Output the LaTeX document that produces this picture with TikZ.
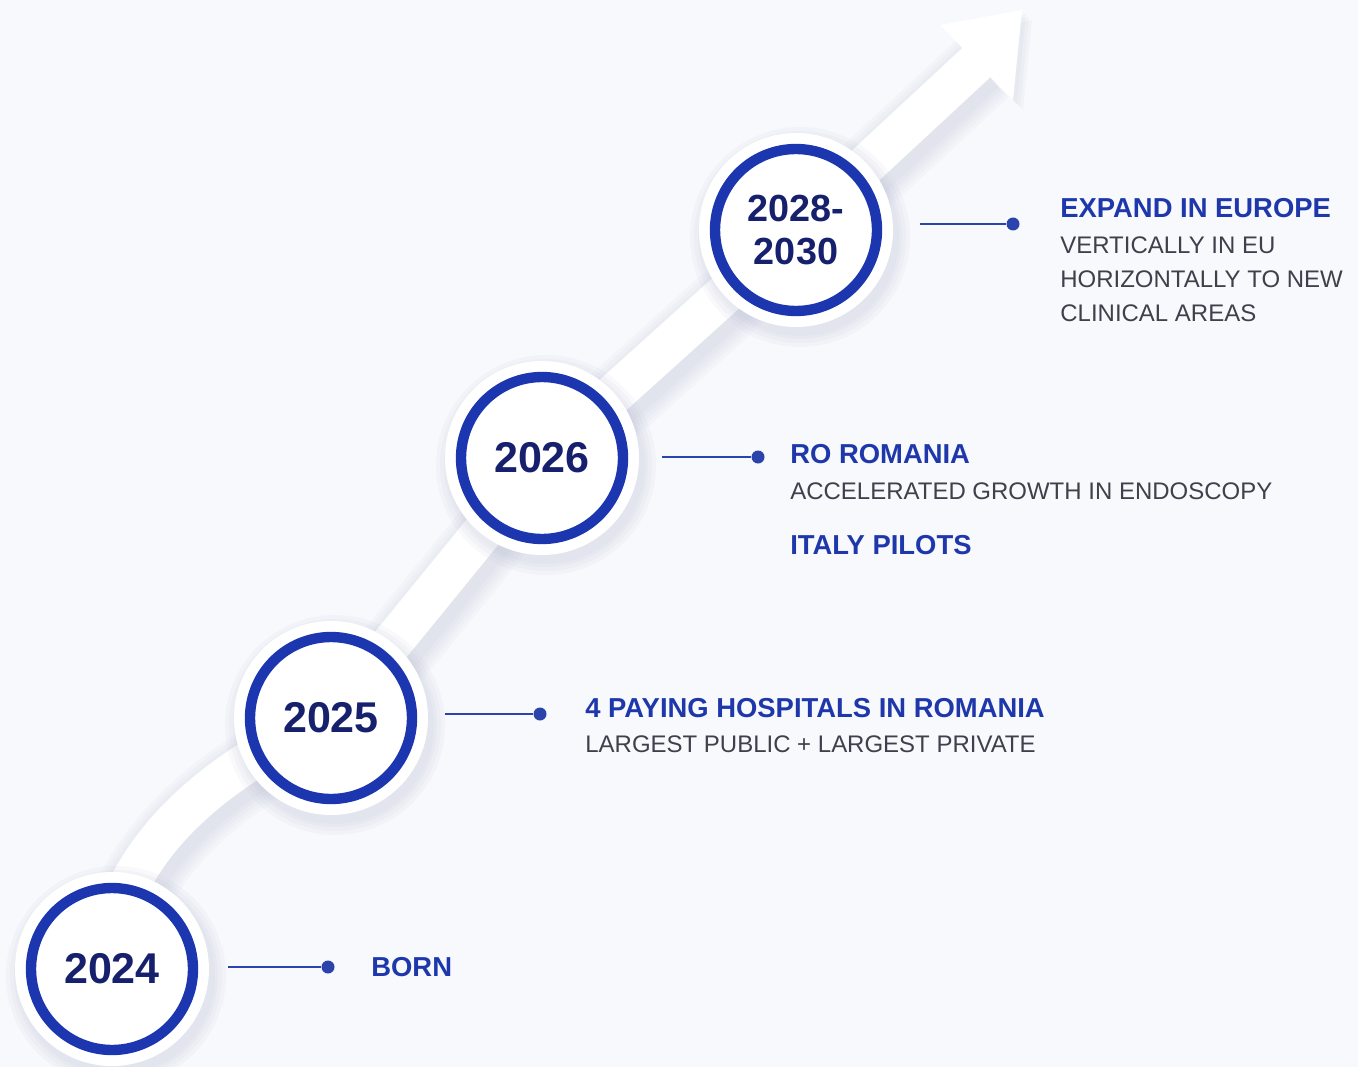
\documentclass[tikz,border=0pt]{standalone}
\usepackage{fontspec}
\setmainfont{Liberation Sans}
\usetikzlibrary{positioning,calc}

\definecolor{bgcol}{RGB}{248,249,252}
\definecolor{navy}{RGB}{22,32,108}
\definecolor{ringblue}{RGB}{28,54,176}
\definecolor{headblue}{RGB}{30,56,172}
\definecolor{linkblue}{RGB}{42,68,172}
\definecolor{bodygray}{RGB}{62,65,76}
\definecolor{shadowcol}{RGB}{170,178,205}

\tikzset{
  yearring/.style={circle,fill=white,draw=ringblue,line width=5.9pt,
    minimum size=3.24cm,inner sep=0pt,text=navy,align=center,
    font=\fontsize{24.5}{26}\selectfont\bfseries},
  pin/.style={circle,fill=linkblue,inner sep=0pt,minimum size=7.4pt},
  link/.style={linkblue,line width=1.2pt},
  head/.style={anchor=base west,inner sep=0pt,text=headblue,
    font=\fontsize{15.6}{18}\selectfont\bfseries},
  body/.style={anchor=base west,inner sep=0pt,text=bodygray,
    font=\fontsize{13.65}{16}\selectfont},
}

\begin{document}
\begin{tikzpicture}[x=0.02cm,y=-0.02cm]
\fill[bgcol] (0,0) rectangle (1358,1067);
\useasboundingbox (0,0) rectangle (1358,1067);
% growth arrow
\foreach \w in {44,40,36,32,28}
  \draw[shadowcol,opacity=0.06,line width=\w pt,line join=round,shift={(5,7)}]
    (122,900) .. controls (155,825) and (225,765) .. (331,718)
    -- (542,459) -- (796,230) -- (977,62);
\foreach \s in {10,7,4}
  \fill[shadowcol,opacity=0.07,shift={(\s,\s)}] (940,25) -- (1022,10) -- (1013,100) -- cycle;
\draw[white,line width=23pt,line join=round]
  (122,900) .. controls (155,825) and (225,765) .. (331,718)
  -- (542,459) -- (796,230) -- (977,62);
\fill[white] (940,25) -- (1022,10) -- (1013,100) -- cycle;
% discs
\foreach \cx/\cy in {112/969,331/718,542/458,796/230}{
  \foreach \r in {110,106,102,99}
    \fill[shadowcol,opacity=0.07] (\cx+4,\cy+7) circle (\r);
  \fill[white] (\cx,\cy) circle (97);
}
% years
\node[yearring] (c24) at (112,969) {2024};
\node[yearring] (c25) at (331,718) {2025};
\node[yearring] (c26) at (542,458) {2026};
\node[yearring,font=\fontsize{21.5}{24}\selectfont\bfseries] (c28) at (796,230) {2028-\\2030};
% pins
\node[pin] (d24) at (328,967) {};
\node[pin] (d25) at (540,714) {};
\node[pin] (d26) at (758,457) {};
\node[pin] (d28) at (1013,224) {};
\coordinate (s24) at (228,967);
\coordinate (s25) at (445,714);
\coordinate (s26) at (662,457);
\coordinate (s28) at (920,224);
\draw[link] (s24) -- (d24);
\draw[link] (s25) -- (d25);
\draw[link] (s26) -- (d26);
\draw[link] (s28) -- (d28);
% labels
\node[head] (h24) at (371,976) {BORN};
\node[head] (h25) at (585,717) {4 PAYING HOSPITALS IN ROMANIA};
\node[body] (b25) at ($(h25.base west)+(0,35.5)$) {LARGEST PUBLIC + LARGEST PRIVATE};
\node[head] (h26) at (790,463) {RO ROMANIA};
\node[body] (b26) at ($(h26.base west)+(0,36.5)$) {ACCELERATED GROWTH IN ENDOSCOPY};
\node[head] (i26) at ($(h26.base west)+(0,91)$) {ITALY PILOTS};
\node[head] (h28) at (1060,218) {EXPAND IN EUROPE};
\node[body] (b28a) at ($(h28.base west)+(0,35.5)$) {VERTICALLY IN EU};
\node[body] (b28b) at ($(b28a.base west)+(0,34)$) {HORIZONTALLY TO NEW};
\node[body] (b28c) at ($(b28b.base west)+(0,34)$) {CLINICAL AREAS};
\end{tikzpicture}
\end{document}
